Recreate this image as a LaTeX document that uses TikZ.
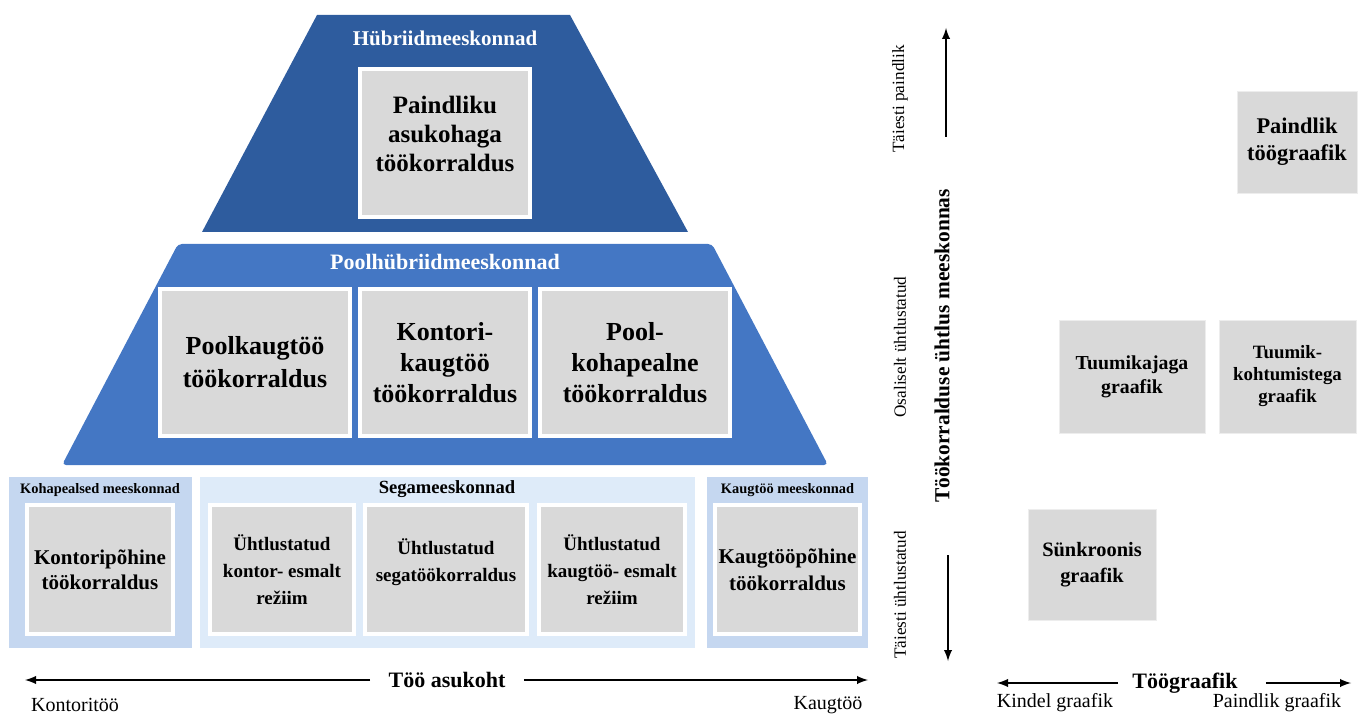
\documentclass[tikz,border=0pt]{standalone}
\usepackage{fontspec}
\setmainfont{Liberation Serif}
\usetikzlibrary{positioning, arrows, calc}
\definecolor{hybblue}{RGB}{46,92,158}
\definecolor{semiblue}{RGB}{68,119,196}
\definecolor{teampale}{RGB}{197,215,240}
\definecolor{mixpale}{RGB}{222,235,249}
\definecolor{boxgray}{RGB}{217,217,217}
\tikzset{
  graybox/.style={draw=white, line width=2pt, fill=boxgray, align=center, inner sep=1pt},
  plainbox/.style={draw=white!93!black, line width=0.4pt, fill=boxgray, align=center, inner sep=1pt},
  panel/.style={fill=#1, inner sep=0pt},
  whitetitle/.style={text=white, inner sep=1pt},
  axisarrow/.style={-latex, line width=0.9pt},
}
\newcommand{\bfsz}[2]{\fontsize{#1}{#2}\selectfont\bfseries}
\begin{document}
\begin{tikzpicture}[x=0.5pt, y=-0.5pt]
\useasboundingbox (0,0) rectangle (1365,716);

\fill[semiblue, rounded corners=2pt] (178,244) -- (712,244) -- (828,465) -- (62,465) -- cycle;
\fill[hybblue] (317,15) -- (570,15) -- (688,232) -- (202,232) -- cycle;

\node[whitetitle, font=\bfsz{10.5}{12}] (hybtitle) at (445,38) {Hübriidmeeskonnad};
\node[graybox, minimum width=85pt, minimum height=74pt, font=\bfsz{12.5}{14.5}] (paindasuk) at (445,143)
  {Paindliku\\asukohaga\\töökorraldus\\[-5pt]};

\node[whitetitle, font=\bfsz{11}{12}] (semititle) at (445,262) {Poolhübriidmeeskonnad};
\node[graybox, minimum width=95pt, minimum height=73.5pt, font=\bfsz{13}{16.5}] (poolkaug) at (255,362.5)
  {Poolkaugtöö\\töökorraldus};
\node[graybox, minimum width=85pt, minimum height=73.5pt, font=\bfsz{13}{15.5}] (kontkaug) at (445,362.5)
  {Kontori-\\kaugtöö\\töökorraldus};
\node[graybox, minimum width=95pt, minimum height=73.5pt, font=\bfsz{13}{15.5}] (poolkoha) at (635,362.5)
  {Pool-\\kohapealne\\töökorraldus};

\node[panel=teampale, minimum width=91.5pt, minimum height=85.5pt] (kohapanel) at (100.5,562.5) {};
\node[panel=mixpale, minimum width=247.5pt, minimum height=85.5pt] (segapanel) at (447.5,562.5) {};
\node[panel=teampale, minimum width=80.5pt, minimum height=85.5pt] (kaugpanel) at (787.5,562.5) {};

\node[font=\bfsz{7.2}{8}] (kohatitle) at (100,490) {Kohapealsed meeskonnad};
\node[font=\bfsz{9.3}{10}] (segatitle) at (447,489) {Segameeskonnad};
\node[font=\bfsz{7.2}{8}] (kaugtitle) at (787.5,490) {Kaugtöö meeskonnad};

\node[graybox, minimum width=73pt, minimum height=64.5pt, font=\bfsz{10.5}{12.5}] (kontorip) at (100,569.5)
  {Kontoripõhine\\töökorraldus};
\node[graybox, minimum width=72pt, minimum height=64.5pt, font=\bfsz{9.5}{13.5}] (uhtkontor) at (282,569.5)
  {Ühtlustatud\\kontor- esmalt\\režiim};
\node[graybox, minimum width=81pt, minimum height=64.5pt, font=\bfsz{9.5}{13.5}] (uhtsega) at (446,569.5)
  {Ühtlustatud\\segatöökorraldus\\[-4pt]};
\node[graybox, minimum width=73pt, minimum height=64.5pt, font=\bfsz{9.5}{13.5}] (uhtkaug) at (612,569.5)
  {Ühtlustatud\\kaugtöö- esmalt\\režiim};
\node[graybox, minimum width=72.5pt, minimum height=64.5pt, font=\bfsz{10.5}{13.5}] (kaugtoop) at (787.5,569.5)
  {Kaugtööpõhine\\töökorraldus};

\node[font=\bfsz{11}{12}, inner xsep=9pt] (asukoht) at (447,680) {Töö asukoht};
\coordinate (kontorend) at (25,680);
\coordinate (kaugend) at (868,680);
\draw[axisarrow] (asukoht.west) -- (kontorend);
\draw[axisarrow] (asukoht.east) -- (kaugend);
\node[font=\fontsize{10}{12}\selectfont] (kontoritoo) at (75,705) {Kontoritöö};
\node[font=\fontsize{10}{12}\selectfont] (kaugtoo) at (828,705) {Kaugtöö};

\node[rotate=90, font=\bfsz{10.7}{12}] (uhtlus) at (942,346) {Töökorralduse ühtlus meeskonnas};
\coordinate (upfoot) at (946,137);
\coordinate (uptip) at (946,28);
\coordinate (downfoot) at (948,555);
\coordinate (downtip) at (948,661);
\draw[axisarrow] (upfoot) -- (uptip);
\draw[axisarrow] (downfoot) -- (downtip);
\node[rotate=90, font=\fontsize{8.6}{10}\selectfont] (taiespaind) at (900,99) {Täiesti paindlik};
\node[rotate=90, font=\fontsize{8.6}{10}\selectfont] (osaluht) at (900,347) {Osaliselt ühtlustatud};
\node[rotate=90, font=\fontsize{8.6}{10}\selectfont] (taiesuht) at (900,595) {Täiesti ühtlustatud};

\node[plainbox, minimum width=60pt, minimum height=51pt, font=\bfsz{11.2}{13.5}] (paindgraaf) at (1297,142)
  {Paindlik\\töögraafik};
\node[plainbox, minimum width=73pt, minimum height=56.5pt, font=\bfsz{9.9}{12}] (tuumaeg) at (1132,376.5)
  {Tuumikajaga\\graafik};
\node[plainbox, minimum width=68.5pt, minimum height=56.5pt, font=\bfsz{9.4}{11}] (tuumkoht) at (1287.5,376.5)
  {Tuumik-\\kohtumistega\\graafik};
\node[plainbox, minimum width=64pt, minimum height=55.5pt, font=\bfsz{10.2}{13}] (synkroon) at (1092,564.5)
  {Sünkroonis\\graafik};

\node[font=\bfsz{11}{12}, inner xsep=7pt] (toograaf) at (1185,683) {Töögraafik};
\coordinate (kindelend) at (997,683);
\coordinate (paindend) at (1351,683);
\draw[axisarrow] (toograaf.west) -- (kindelend);
\draw[axisarrow, shorten <=7pt] (toograaf.east) -- (paindend);
\node[font=\fontsize{10}{12}\selectfont] (kindel) at (1055,703) {Kindel graafik};
\node[font=\fontsize{10}{12}\selectfont] (paindlik) at (1277,703) {Paindlik graafik};
\end{tikzpicture}
\end{document}
